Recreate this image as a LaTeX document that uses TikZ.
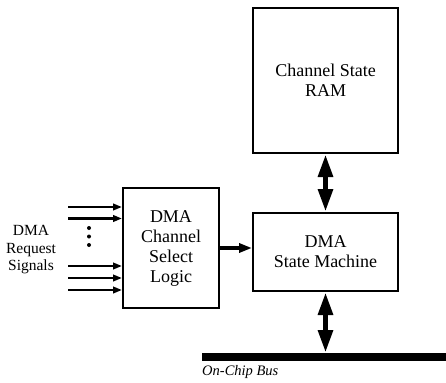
\documentclass[tikz,border=0pt]{standalone}
\usepackage{fontspec}
\setmainfont{Liberation Serif}
\usepackage{tikz}
\usetikzlibrary{arrows.meta}
\tikzstyle{block}=[draw, line width=2pt, align=center, inner sep=0pt, font=\fontsize{18}{20}\selectfont]
\tikzstyle{point}=[circle, fill, inner sep=0pt, minimum size=4pt]
\tikzstyle{arrow}=[draw=black, line width=2.4pt, -{Triangle[length=9pt,width=6.5pt]}]
\tikzstyle{arrowthick}=[draw=black, line width=3.4pt, -{Triangle[length=13pt,width=9pt]}]
\tikzstyle{arrowboth}=[draw=black, line width=5.5pt, {Triangle[length=23pt,width=14pt]}-{Triangle[length=23pt,width=14pt]}]

\begin{document}
\begin{tikzpicture}[x=1pt, y=-1pt]
		   \useasboundingbox (0, 0) rectangle (446, 382);
		   \begin{scope}
			   \node (ram) at (325.5, 80.5)[block, minimum width=145pt, minimum height=145pt] {Channel State\\RAM};
			   \node (sm) at (325.5, 252)[block, minimum width=145pt, minimum height=78pt] {DMA\\State Machine};
			   \node (sel) at (171, 248)[block, minimum width=96pt, minimum height=120pt] {DMA\\Channel\\Select\\Logic};
			   \node (req) at (31, 250)[align=center, font=\fontsize{15.5}{17.5}\selectfont] {DMA\\Request\\Signals};
			   \node (on) at (202, 372)[anchor=west, inner sep=0pt, font=\fontsize{14.5}{16}\selectfont\itshape] {On-Chip Bus};
		   \end{scope}
		   \begin{scope}
			   \node (dot1) at (89, 228)[point] {};
			   \node (dot2) at (89, 236.5)[point] {};
			   \node (dot3) at (89, 245)[point] {};
		   \end{scope}
		   \begin{scope}
			   \coordinate (in1) at (68, 207);
			   \coordinate (in2) at (68, 218.5);
			   \coordinate (in3) at (68, 266);
			   \coordinate (in4) at (68, 278);
			   \coordinate (in5) at (68, 290);
			   \coordinate (busL) at (202, 357);
			   \coordinate (busR) at (446, 357);
			   \coordinate (tap) at (325.5, 353);
		   \end{scope}
		   \begin{scope}
			   \path [arrow] (in1) -- (in1 -| sel.west);
			   \path [arrow] (in2) -- (in2 -| sel.west);
			   \path [arrow] (in3) -- (in3 -| sel.west);
			   \path [arrow] (in4) -- (in4 -| sel.west);
			   \path [arrow] (in5) -- (in5 -| sel.west);
			   \path [arrowthick] (sel.east) -- (sel.east -| sm.west);
			   \path [arrowboth] (ram.south) -- (sm.north);
			   \path [arrowboth] (sm.south) -- (tap);
			   \path [draw, line width=8pt] (busL) -- (busR);
		   \end{scope}
	   \end{tikzpicture}
\end{document}
